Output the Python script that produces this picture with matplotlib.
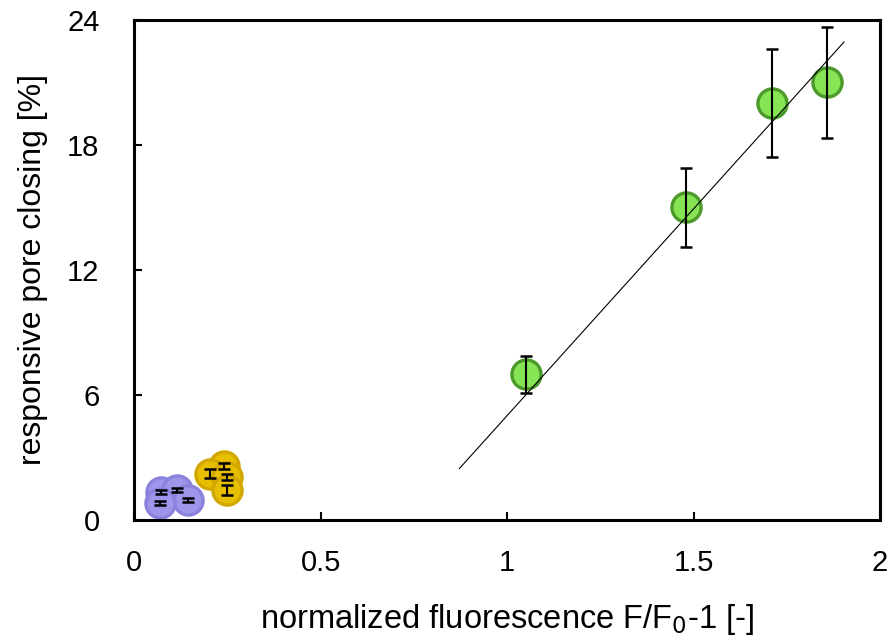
import matplotlib
matplotlib.use("Agg")
import numpy as np
import matplotlib.pyplot as plt

# green group (with linear fit)
green_x = [1.05, 1.48, 1.71, 1.857]
green_y = [7.0, 15.0, 20.0, 21.0]
green_err = [0.88, 1.9, 2.6, 2.67]

# yellow group
yellow_x = [0.241, 0.204, 0.249, 0.249]
yellow_y = [2.59, 2.24, 2.08, 1.44]
yellow_err = [0.15, 0.2, 0.15, 0.25]

# purple group
purple_x = [0.072, 0.114, 0.143, 0.070]
purple_y = [1.36, 1.44, 0.96, 0.83]
purple_err = [0.1, 0.1, 0.1, 0.1]

fit_x = [0.872, 1.903]
fit_slope = 19.83
fit_intercept = -14.81

plt.rcParams['font.family'] = ['Liberation Sans', 'DejaVu Sans']

fig = plt.figure(figsize=(8.89, 6.36), dpi=100)
ax = fig.add_axes([0.151, 0.182, 0.839, 0.787])

groups = [
    (purple_x, purple_y, purple_err, "#9d96ea", "#8a82dc"),
    (yellow_x, yellow_y, yellow_err, "#e6bf00", "#d2a800"),
    (green_x, green_y, green_err, "#86e455", "#4b9a2a"),
]
for gx, gy, ge, fc, ec in groups:
    ax.plot(gx, gy, linestyle='none', marker='o', markersize=21,
            markerfacecolor=fc, markeredgecolor=ec, markeredgewidth=2.4, zorder=2)
    ax.errorbar(gx, gy, yerr=ge, fmt='none', ecolor='black', elinewidth=1.5,
                capsize=4.5, capthick=1.8, zorder=3)

fx = np.array(fit_x)
ax.plot(fx, fit_slope * fx + fit_intercept, color='black', lw=0.8, zorder=4)

ax.set_xlim(0, 2)
ax.set_ylim(0, 24)
ax.set_xticks([0, 0.5, 1, 1.5, 2])
ax.set_xticklabels(['0', '0.5', '1', '1.5', '2'])
ax.set_yticks([0, 6, 12, 18, 24])
ax.tick_params(direction='in', length=6, width=1.5, labelsize=21)
ax.tick_params(axis='x', pad=21)
ax.tick_params(axis='y', pad=25)
for s in ax.spines.values():
    s.set_linewidth(2.2)

ax.set_xlabel('normalized fluorescence F/F$_0$-1 [-]', fontsize=23.5, labelpad=18)
ax.set_ylabel('responsive pore closing [%]', fontsize=23, labelpad=14)

fig.savefig('out.png', dpi=100)
